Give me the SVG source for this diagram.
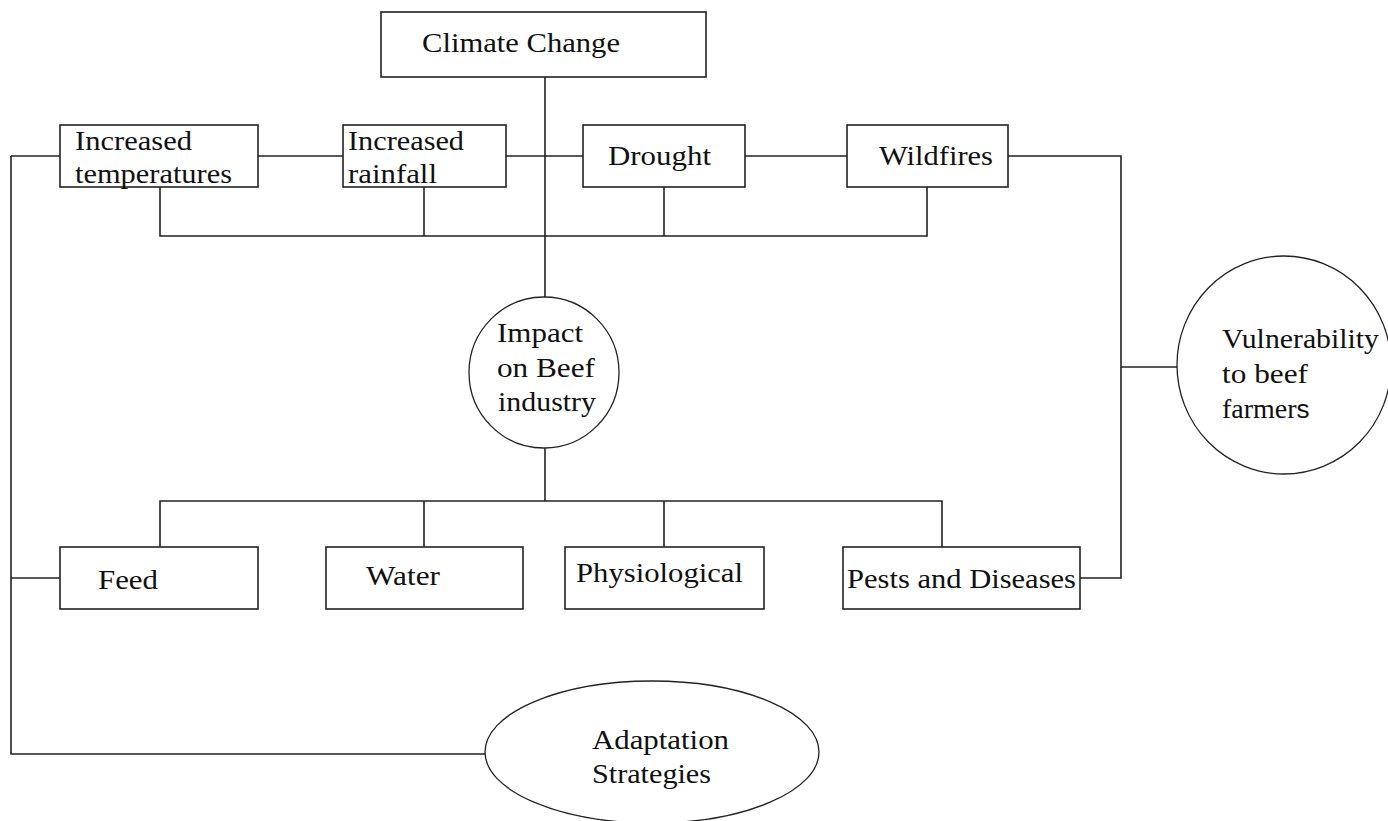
<svg xmlns="http://www.w3.org/2000/svg" width="1388" height="821" viewBox="0 0 1388 821">
<style>
.box{fill:#fff;stroke:#222;stroke-width:1.6}
.ell{fill:#fff;stroke:#222;stroke-width:1.3}
.ln{fill:none;stroke:#222;stroke-width:1.6}
.t{font-size:28px;fill:#111}
</style>
<rect width="1388" height="821" fill="#fff"/>
<g id="connectors">
<polyline class="ln" points="545,77 545,297"/>
<polyline class="ln" points="11,156 60,156"/>
<polyline class="ln" points="258,156 343,156"/>
<polyline class="ln" points="506,156 583,156"/>
<polyline class="ln" points="745,156 847,156"/>
<polyline class="ln" points="1008,156 1121,156 1121,578 1080,578"/>
<polyline class="ln" points="1121,367 1177,367"/>
<polyline class="ln" points="160,187 160,236 927,236 927,187"/>
<polyline class="ln" points="424,187 424,236"/>
<polyline class="ln" points="664,187 664,236"/>
<polyline class="ln" points="545,448 545,501"/>
<polyline class="ln" points="160,547 160,501 942,501 942,547"/>
<polyline class="ln" points="424,501 424,547"/>
<polyline class="ln" points="664,501 664,547"/>
<polyline class="ln" points="60,578 11,578"/>
<polyline class="ln" points="11,156 11,754 486,754"/>
</g>
<g font-family="'Liberation Serif', 'Times New Roman', serif">
<g id="climate-change"><rect class="box" x="381" y="12" width="325" height="65"/><text class="t" x="422" y="52" textLength="198" lengthAdjust="spacingAndGlyphs">Climate Change</text></g>
<g id="increased-temperatures"><rect class="box" x="60" y="125" width="198" height="62"/><text class="t" x="75" y="150" textLength="117" lengthAdjust="spacingAndGlyphs">Increased</text><text class="t" x="75" y="183" textLength="157" lengthAdjust="spacingAndGlyphs">temperatures</text></g>
<g id="increased-rainfall"><rect class="box" x="343" y="125" width="163" height="62"/><text class="t" x="348" y="150" textLength="116" lengthAdjust="spacingAndGlyphs">Increased</text><text class="t" x="348" y="183" textLength="89" lengthAdjust="spacingAndGlyphs">rainfall</text></g>
<g id="drought"><rect class="box" x="583" y="125" width="162" height="62"/><text class="t" x="608" y="165" textLength="103" lengthAdjust="spacingAndGlyphs">Drought</text></g>
<g id="wildfires"><rect class="box" x="847" y="125" width="161" height="62"/><text class="t" x="879" y="165" textLength="114" lengthAdjust="spacingAndGlyphs">Wildfires</text></g>
<g id="impact"><ellipse class="ell" cx="544" cy="372.5" rx="75" ry="75.5"/><text class="t" x="497" y="342" textLength="86" lengthAdjust="spacingAndGlyphs">Impact</text><text class="t" x="497" y="377" textLength="98" lengthAdjust="spacingAndGlyphs">on Beef</text><text class="t" x="498" y="411" textLength="98" lengthAdjust="spacingAndGlyphs">industry</text></g>
<g id="vulnerability"><ellipse class="ell" cx="1284" cy="365" rx="107" ry="109"/><text class="t" x="1222" y="348" textLength="157" lengthAdjust="spacingAndGlyphs">Vulnerability</text><text class="t" x="1222" y="383" textLength="86" lengthAdjust="spacingAndGlyphs">to beef</text><text class="t" x="1222" y="418">farmer<tspan font-family="'Liberation Sans', Arial, sans-serif" font-size="26">s</tspan></text></g>
<g id="feed"><rect class="box" x="60" y="547" width="198" height="62"/><text class="t" x="98" y="589" textLength="60" lengthAdjust="spacingAndGlyphs">Feed</text></g>
<g id="water"><rect class="box" x="326" y="547" width="197" height="62"/><text class="t" x="366" y="585" textLength="74" lengthAdjust="spacingAndGlyphs">Water</text></g>
<g id="physiological"><rect class="box" x="565" y="547" width="199" height="62"/><text class="t" x="576" y="582" textLength="167" lengthAdjust="spacingAndGlyphs">Physiological</text></g>
<g id="pests"><rect class="box" x="843" y="547" width="237" height="62"/><text class="t" x="847" y="588" textLength="229" lengthAdjust="spacingAndGlyphs">Pests and Diseases</text></g>
<g id="adaptation"><ellipse class="ell" cx="652" cy="752" rx="167" ry="71"/><text class="t" x="592" y="749" textLength="137" lengthAdjust="spacingAndGlyphs">Adaptation</text><text class="t" x="592" y="783" textLength="119" lengthAdjust="spacingAndGlyphs">Strategies</text></g>
</g>
</svg>
